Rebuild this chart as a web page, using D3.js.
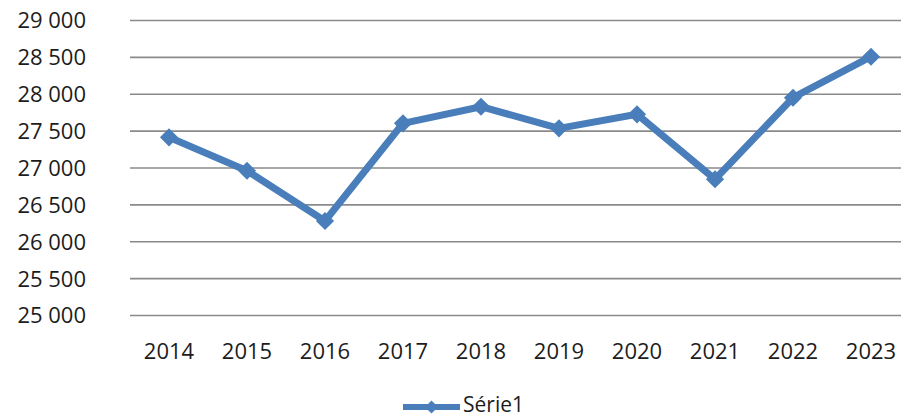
<!DOCTYPE html>
<html>
<head>
<meta charset="utf-8">
<script src="https://cdnjs.cloudflare.com/ajax/libs/d3/7.8.5/d3.min.js"></script>
<style>
  body { margin: 0; background: #fff; }
  #graph text { font-family: "Open Sans", "Liberation Sans", sans-serif; fill: #1c1c1c; }
</style>
</head>
<body>
<div id="graph"></div>
<script>
var years = ["2014", "2015", "2016", "2017", "2018", "2019", "2020", "2021", "2022", "2023"];
var values = [27416, 26963, 26281, 27606, 27831, 27538, 27728, 26847, 27953, 28509];
var y_ticks = [25000, 25500, 26000, 26500, 27000, 27500, 28000, 28500, 29000];
var series_name = "Série1";

var graph_width = 901;
var graph_height = 417;
var blue = "#4a7ebb";

var graph = d3.select('#graph')
    .append('svg')
    .attr('width', graph_width)
    .attr('height', graph_height);

var x = d3.scaleBand()
    .domain(years)
    .range([130, 910]);

var y = d3.scaleLinear()
    .domain([25000, 29000])
    .range([315.5, 20.5]);

// gridlines
graph.selectAll('line.grid')
    .data(y_ticks)
    .enter()
    .append('line')
    .attr('class', 'grid')
    .attr('x1', 130)
    .attr('x2', 910)
    .attr('y1', function(d) { return y(d); })
    .attr('y2', function(d) { return y(d); })
    .attr('style', 'stroke:#8a8a8a;stroke-width:1.6');

// y labels
var fmt = function(d) { return d3.format(",")(d).replace(",", " "); };
graph.selectAll('text.ylab')
    .data(y_ticks)
    .enter()
    .append('text')
    .attr('class', 'ylab')
    .attr('x', 86)
    .attr('y', function(d) { return y(d); })
    .attr('dy', '0.36em')
    .attr('text-anchor', 'end')
    .style('font-size', '22px')
    .text(fmt);

// x labels
graph.selectAll('text.xlab')
    .data(years)
    .enter()
    .append('text')
    .attr('class', 'xlab')
    .attr('x', function(d) { return x(d) + x.bandwidth() / 2; })
    .attr('y', 359)
    .attr('text-anchor', 'middle')
    .style('font-size', '22px')
    .text(function(d) { return d; });

// series line
var line = d3.line()
    .x(function(d, i) { return x(years[i]) + x.bandwidth() / 2; })
    .y(function(d) { return y(d); });

graph.append('path')
    .datum(values)
    .attr('d', line)
    .attr('style', 'fill:none;stroke:' + blue + ';stroke-width:7;stroke-linejoin:round');

var diamond = d3.symbol().type(d3.symbolDiamond2).size(210);
graph.selectAll('path.marker')
    .data(values)
    .enter()
    .append('path')
    .attr('class', 'marker')
    .attr('d', diamond)
    .attr('transform', function(d, i) {
        return 'translate(' + (x(years[i]) + x.bandwidth() / 2) + ',' + y(d) + ')';
    })
    .attr('style', 'fill:' + blue);

// legend
var legend = graph.append('g').attr('transform', 'translate(403,407)');
legend.append('line')
    .attr('x1', 0)
    .attr('x2', 57)
    .attr('y1', 0)
    .attr('y2', 0)
    .attr('style', 'stroke:' + blue + ';stroke-width:6');
legend.append('path')
    .attr('d', d3.symbol().type(d3.symbolDiamond2).size(110))
    .attr('transform', 'translate(28.5,0)')
    .attr('style', 'fill:' + blue);
legend.append('text')
    .attr('x', 60)
    .attr('y', -1)
    .attr('dy', '0.3em')
    .style('font-size', '21px')
    .text(series_name);
</script>
</body>
</html>
